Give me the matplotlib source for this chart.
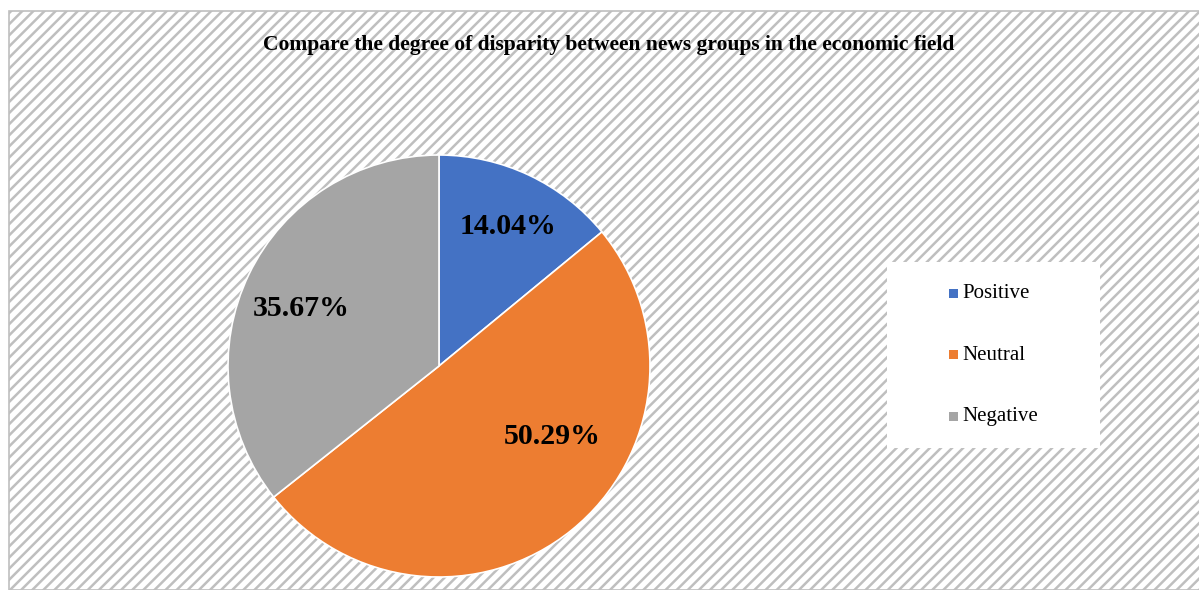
import matplotlib.pyplot as plt
from matplotlib.patches import Rectangle

labels = ['Positive', 'Neutral', 'Negative']
values = [14.04, 50.29, 35.67]
colors = ['#4472c4', '#ed7d31', '#a5a5a5']
title = 'Compare the degree of disparity between news groups in the economic field'

plt.rcParams['font.family'] = ['Liberation Serif', 'DejaVu Serif']
plt.rcParams['hatch.linewidth'] = 1.8
plt.rcParams['hatch.color'] = '#dcdcdc'

fig = plt.figure(figsize=(11.99, 5.9), dpi=100)
W, H = 1199, 590

# hatched chart area background with grey border
bg = Rectangle((9 / W, 0), 1.2, 1 - 11 / H, transform=fig.transFigure,
               facecolor='white', edgecolor='#bfbfbf', hatch='///', lw=1.2, zorder=-2)
fig.patches.append(bg)

fig.text(609 / W, 1 - 45 / H, title, ha='center', va='center',
         fontsize=15.5, fontweight='bold')

# pie axes: centre (439, 366), radius ~211
r = 211
ax = fig.add_axes([(439 - r) / W, 1 - (366 + r) / H, 2 * r / W, 2 * r / H])
ax.set_zorder(2)
wedges, _ = ax.pie(values, colors=colors, startangle=90, counterclock=False,
                   radius=1, wedgeprops=dict(edgecolor='white', linewidth=1.2))
ax.set_xlim(-1, 1)
ax.set_ylim(-1, 1)
ax.set_aspect('auto')
ax.axis('off')

label_pos = [(508, 227), (552, 437), (301, 308)]
for v, (px, py) in zip(values, label_pos):
    fig.text(px / W, 1 - py / H, f'{v:.2f}%', ha='center', va='center',
             fontsize=21.5, fontweight='bold', zorder=5)

# legend box
lx0, ly0, lx1, ly1 = 887, 262, 1100, 448
fig.patches.append(Rectangle((lx0 / W, 1 - ly1 / H), (lx1 - lx0) / W, (ly1 - ly0) / H,
                             transform=fig.transFigure, facecolor='white',
                             edgecolor='none', zorder=1))
for lab, c, y in zip(labels, colors, [294, 355, 417]):
    fig.patches.append(Rectangle((949 / W, 1 - (y + 4) / H), 9 / W, 9 / H,
                                 transform=fig.transFigure, facecolor=c,
                                 edgecolor='none', zorder=2))
    fig.text(962 / W, 1 - y / H, lab, ha='left', va='center', fontsize=15, zorder=3)

fig.savefig('out.png', dpi=100)
